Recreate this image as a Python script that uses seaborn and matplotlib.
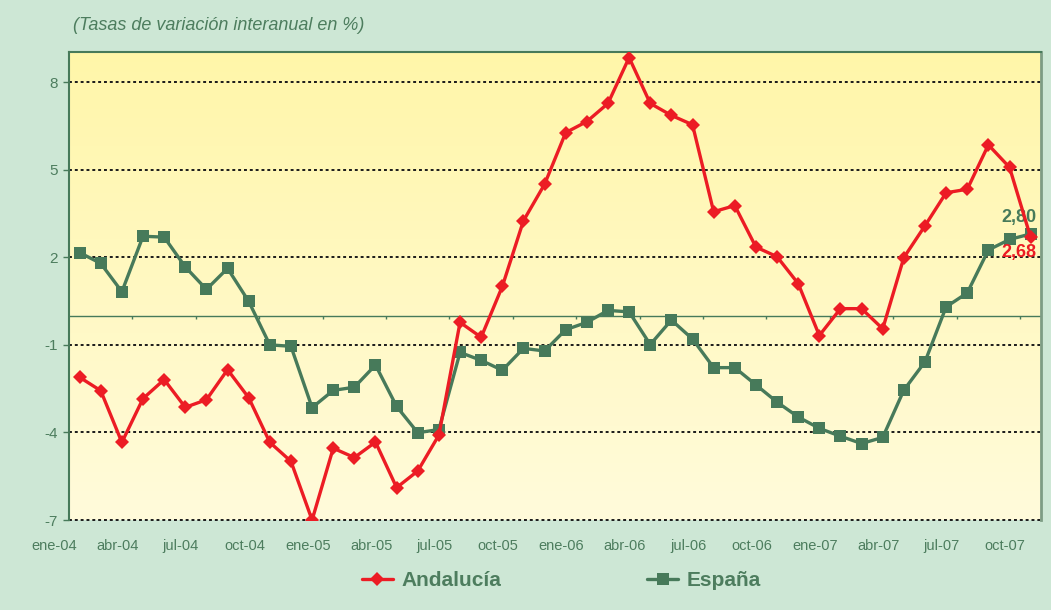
"""
Andalucía vs España: tasas de variación interanual (%), ene-04 a oct-07.
Recreated with seaborn / matplotlib.
"""

import numpy as np
import pandas as pd
import matplotlib
matplotlib.use("Agg")
import matplotlib.pyplot as plt
from matplotlib.colors import LinearSegmentedColormap
from matplotlib.lines import Line2D
from matplotlib.transforms import ScaledTranslation
import seaborn as sns

# monthly values, ene-04 .. oct-07
andalucia = [
    -2.11, -2.57, -4.34, -2.84, -2.19, -3.14, -2.88, -1.85, -2.81, -4.34, -4.99, -7.00,
    -4.54, -4.86, -4.33, -5.89, -5.32, -4.09, -0.23, -0.74, 1.00, 3.25, 4.50, 6.27,
    6.65, 7.27, 8.84, 7.27, 6.86, 6.54, 3.56, 3.77, 2.35, 2.02, 1.10, -0.68,
    0.24, 0.24, -0.45, 1.99, 3.08, 4.21, 4.33, 5.85, 5.08, 2.68,
]
espana = [
    2.16, 1.79, 0.82, 2.72, 2.69, 1.67, 0.90, 1.62, 0.49, -1.00, -1.05, -3.15,
    -2.56, -2.45, -1.69, -3.11, -4.01, -3.90, -1.26, -1.53, -1.87, -1.12, -1.21, -0.48,
    -0.23, 0.18, 0.13, -0.99, -0.15, -0.80, -1.78, -1.78, -2.37, -2.96, -3.47, -3.86,
    -4.13, -4.38, -4.17, -2.55, -1.58, 0.30, 0.78, 2.25, 2.61, 2.80,
]
tick_labels = [
    "ene-04", "abr-04", "jul-04", "oct-04", "ene-05", "abr-05", "jul-05", "oct-05",
    "ene-06", "abr-06", "jul-06", "oct-06", "ene-07", "abr-07", "jul-07", "oct-07",
]
y_ticks = [-7, -4, -1, 2, 5, 8]

RED = "#ec1c24"
GREEN = "#477a5a"
TEXT = "#4d7d5e"
BG = "#cde7d5"
FONT = ["Liberation Sans Narrow", "Liberation Sans", "DejaVu Sans"]

sns.set_theme(style="white")
plt.rcParams["font.family"] = FONT

n = len(andalucia)
df = pd.DataFrame({"idx": np.arange(n), "Andalucía": andalucia, "España": espana})
x_lim = (-0.5, n - 0.5)
y_lim = (-7, 9.03)

fig = plt.figure(figsize=(10.51, 6.10), dpi=100, facecolor=BG)
ax = fig.add_axes([0.0657, 0.1475, 0.925, 0.7672])

# yellow gradient plot area
grad = LinearSegmentedColormap.from_list("bg", ["#fffbdb", "#fff6a9"])
ax.imshow(np.linspace(0, 1, 256)[:, None], cmap=grad, origin="lower", aspect="auto",
          extent=[*x_lim, *y_lim], zorder=0)

for yv in y_ticks:
    ax.axhline(yv, color="#1a1a1a", lw=1.4, ls=(0, (1.5, 1.5)), zorder=1, clip_on=False)
ax.axhline(0, color=GREEN, lw=1.0, zorder=1)
ax.vlines(np.arange(2.5, n - 1, 3), -0.12, 0, color=GREEN, lw=1.0, zorder=1)

sns.lineplot(data=df, x="idx", y="España", ax=ax, color=GREEN, lw=2.4,
             marker="s", markersize=8, markeredgewidth=0, zorder=3)
sns.lineplot(data=df, x="idx", y="Andalucía", ax=ax, color=RED, lw=2.4,
             marker="D", markersize=7, markeredgewidth=0, zorder=4)

# end-point labels
ax.annotate("2,80", (n - 1, espana[-1]), xytext=(4, 12), textcoords="offset points",
            ha="right", va="center", fontsize=13, fontweight="bold", color=GREEN)
ax.annotate("2,68", (n - 1, andalucia[-1]), xytext=(4, -11), textcoords="offset points",
            ha="right", va="center", fontsize=13, fontweight="bold", color=RED)

ax.set_yticks(y_ticks)
ax.set_yticklabels([str(v) for v in y_ticks], fontsize=11, color=TEXT)
ax.set_xticks(np.arange(0, n, 3))
ax.set_xticklabels(tick_labels, fontsize=10.5, color=TEXT)
ax.set_xlim(*x_lim)
ax.set_ylim(*y_lim)
ax.tick_params(axis="y", left=True, length=4, width=1, color=GREEN, pad=4)
ax.tick_params(axis="x", bottom=False, length=0, pad=14)
# the original's month labels sit about 1.2 months left of their points
shift = ScaledTranslation(-0.255, 0, fig.dpi_scale_trans)
for lab in ax.get_xticklabels():
    lab.set_transform(lab.get_transform() + shift)
ax.set_xlabel("")
ax.set_ylabel("")
ax.grid(False)

for side in ["left", "top"]:
    ax.spines[side].set_color(GREEN)
    ax.spines[side].set_linewidth(1.5)
ax.spines["right"].set_color("#7d9c84")
ax.spines["right"].set_linewidth(2)
ax.spines["bottom"].set_visible(False)

fig.text(0.069, 0.958, "(Tasas de variación interanual en %)", fontsize=13,
         style="italic", color=TEXT, ha="left", va="center")

handles = [
    Line2D([], [], color=RED, lw=2.4, marker="D", markersize=7, markeredgewidth=0),
    Line2D([], [], color=GREEN, lw=2.4, marker="s", markersize=8, markeredgewidth=0),
]
leg = fig.legend(handles, ["Andalucía", "España"], loc="center",
                 bbox_to_anchor=(0.534, 0.048), ncol=2, frameon=False,
                 prop={"family": FONT, "weight": "bold", "size": 15},
                 handlelength=1.5, handletextpad=0.4, columnspacing=7)
for t in leg.get_texts():
    t.set_color(TEXT)

fig.savefig("out.png", dpi=100, facecolor=BG)
